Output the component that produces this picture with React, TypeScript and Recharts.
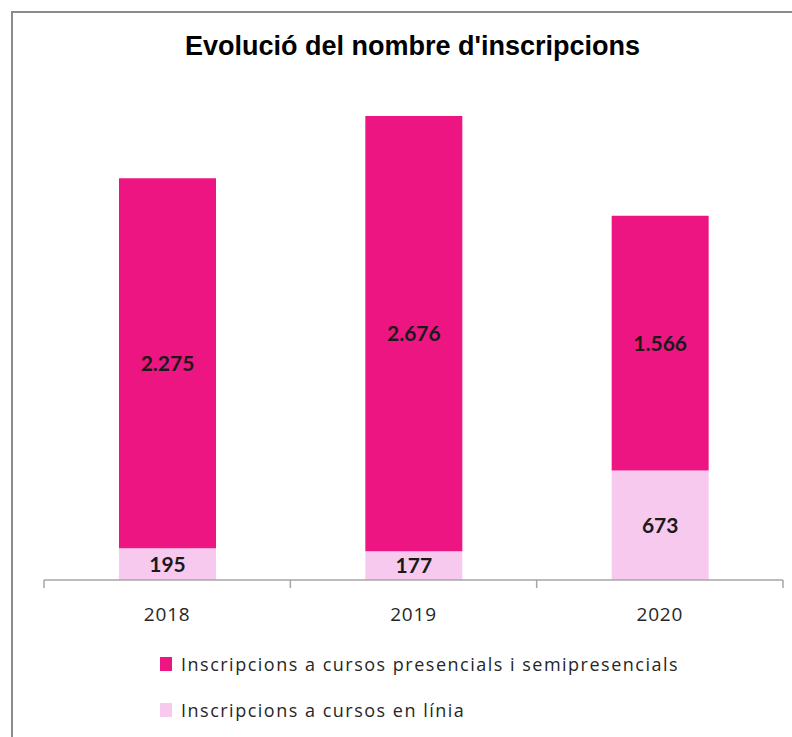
import { Bar, BarChart, LabelList, Legend, XAxis, YAxis } from "recharts";

const years = ["2018", "2019", "2020"];
const presencials = [2275, 2676, 1566];
const enLinia = [195, 177, 673];

const seriesNames = [
  "Inscripcions a cursos presencials i semipresencials",
  "Inscripcions a cursos en línia",
];

const DARK = "#ED1581";
const LIGHT = "#F7C9EF";

const data = years.map((year, i) => ({
  year,
  presencials: presencials[i],
  linia: enLinia[i],
}));

const fmt = (v: any) =>
  String(v).replace(/\B(?=(\d{3})+(?!\d))/g, ".");

function YearTick(props: any) {
  const { x, y, payload, index } = props;
  const off = payload.offset ?? 0;
  return (
    <g>
      <line x1={x - off} y1={y} x2={x - off} y2={y + 8} stroke="#A6A6A6" strokeWidth={1.5} />
      {index === years.length - 1 && (
        <line x1={x + off} y1={y} x2={x + off} y2={y + 8} stroke="#A6A6A6" strokeWidth={1.5} />
      )}
      <text
        x={x}
        y={y + 41}
        textAnchor="middle"
        fontFamily="'Open Sans', sans-serif"
        fontSize={19}
        letterSpacing={0.8}
        fill="#262626"
      >
        {payload.value}
      </text>
    </g>
  );
}

function LegendBox() {
  const colors = [DARK, LIGHT];
  return (
    <div style={{ fontFamily: "'Open Sans', sans-serif", fontSize: 18, color: "#262626" }}>
      {seriesNames.map((name, i) => (
        <div key={name} style={{ display: "flex", alignItems: "center", height: 46 }}>
          <span style={{ width: 12, height: 14, background: colors[i], marginRight: 9 }} />
          <span style={{ letterSpacing: 1.5 }}>{name}</span>
        </div>
      ))}
    </div>
  );
}

export default function App() {
  return (
    <div
      style={{
        position: "absolute",
        left: 0,
        top: 0,
        width: 792,
        height: 737,
        overflow: "hidden",
        background: "#fff",
      }}
    >
      <div
        style={{
          position: "absolute",
          left: 11,
          top: 11,
          width: 900,
          height: 900,
          borderLeft: "2px solid #8C8C8C",
          borderTop: "2px solid #8C8C8C",
        }}
      />
      <div
        style={{
          position: "absolute",
          top: 31,
          left: 0,
          width: 825,
          textAlign: "center",
          fontFamily: "'Liberation Sans', Arial, sans-serif",
          fontWeight: "bold",
          fontSize: 27,
          color: "#000",
        }}
      >
        Evolució del nombre d'inscripcions
      </div>
      <div style={{ position: "absolute", left: 0, top: 0 }}>
        <BarChart
          width={792}
          height={737}
          data={data}
          margin={{ top: 92, right: 9, left: 44, bottom: 127 }}
          barSize={97}
        >
          <XAxis
            dataKey="year"
            stroke="#A6A6A6"
            strokeWidth={1.5}
            tickLine={false}
            tickSize={0}
            tickMargin={0}
            tick={<YearTick />}
            height={30}
          />
          <YAxis hide domain={[0, 3000]} />
          <Legend
            layout="horizontal"
            verticalAlign="middle"
            align="center"
            content={<LegendBox />}
            wrapperStyle={{ top: 641, left: 160, width: 620 }}
          />
          <Bar dataKey="linia" stackId="a" fill={LIGHT} isAnimationActive={false}>
            <LabelList
              dataKey="linia"
              position="center"
              formatter={fmt}
              fill="#1a1a1a"
              fontFamily="Lato, sans-serif"
              fontWeight="bold"
              fontSize={21}
            />
          </Bar>
          <Bar dataKey="presencials" stackId="a" fill={DARK} isAnimationActive={false}>
            <LabelList
              dataKey="presencials"
              position="center"
              formatter={fmt}
              fill="#1a1a1a"
              fontFamily="Lato, sans-serif"
              fontWeight="bold"
              fontSize={21}
            />
          </Bar>
        </BarChart>
      </div>
    </div>
  );
}
